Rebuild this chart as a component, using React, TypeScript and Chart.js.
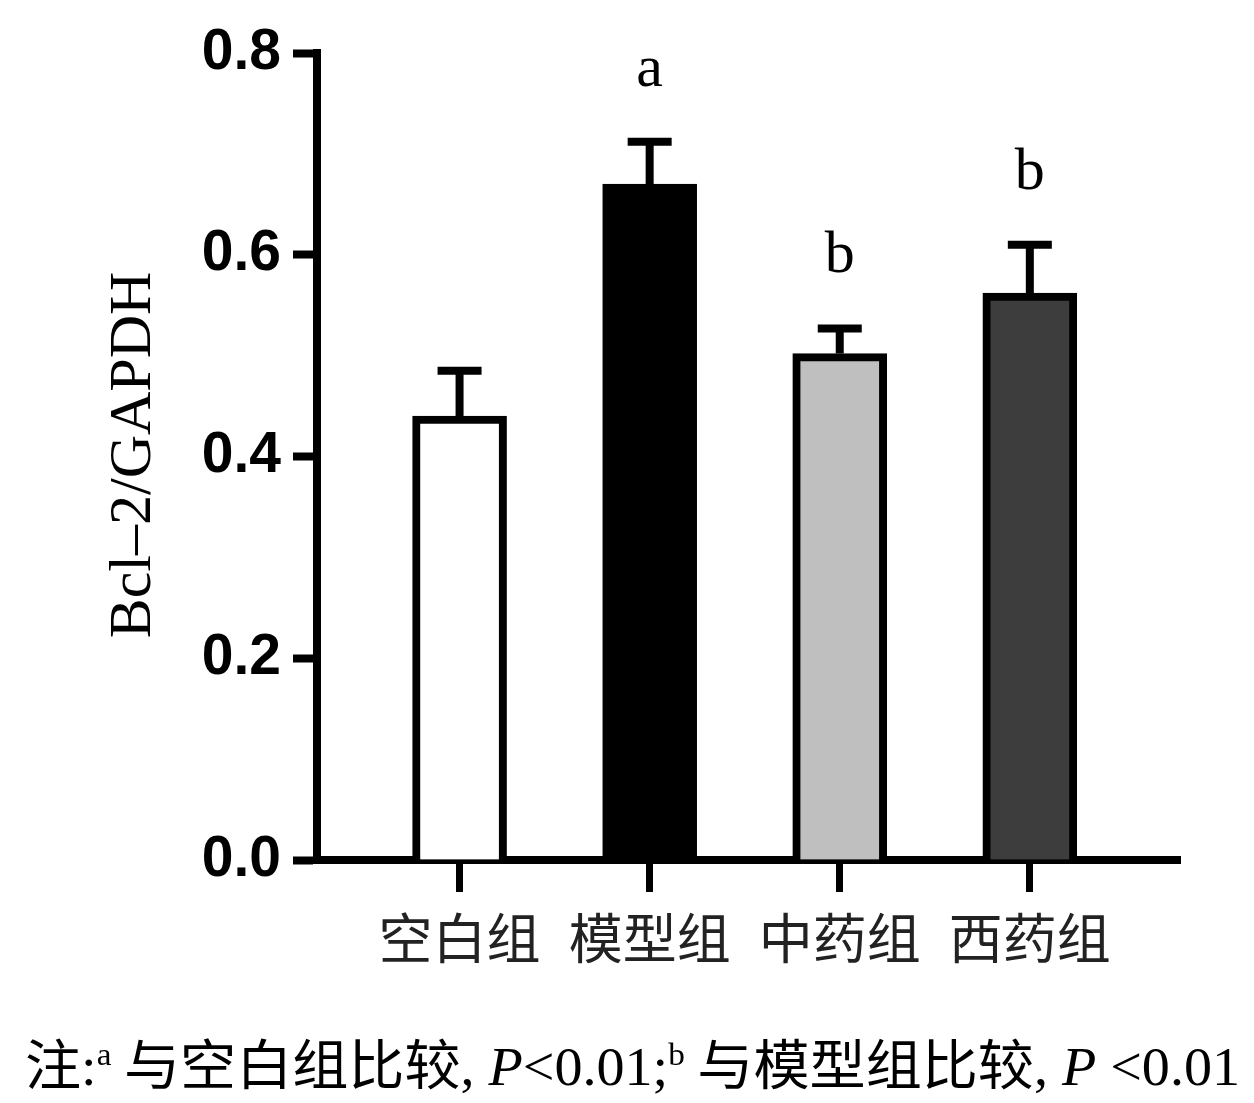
import { useEffect, useRef } from 'react';
import { Chart, registerables } from 'chart.js';
Chart.register(...registerables);

const categories = ['空白组', '模型组', '中药组', '西药组'];
const means = [0.44, 0.67, 0.502, 0.562];
const errUp = [0.045, 0.042, 0.025, 0.048];
const sigLetters = ['', 'a', 'b', 'b'];
const yTicks = [0, 0.2, 0.4, 0.6, 0.8];

const barFills = ['#ffffff', '#000000', '#bfbfbf', '#3d3d3d'];
const SERIF = '"Liberation Serif", "Times New Roman", serif';
const CJK = '"Noto Sans CJK SC", sans-serif';

const W = 1254;
const H = 1103;

const extras = {
  id: 'extras',
  afterDatasetsDraw(chart: any) {
    const { ctx, scales } = chart;
    const xs = scales.x;
    const ys = scales.y;
    ctx.save();
    ctx.strokeStyle = '#000';
    ctx.fillStyle = '#000';
    ctx.lineWidth = 8;
    means.forEach((m, i) => {
      const x = xs.getPixelForValue(i + 1);
      const yb = ys.getPixelForValue(m);
      const yt = ys.getPixelForValue(m + errUp[i]);
      ctx.beginPath();
      ctx.moveTo(x, yb);
      ctx.lineTo(x, yt);
      ctx.moveTo(x - 22, yt);
      ctx.lineTo(x + 22, yt);
      ctx.stroke();
      if (sigLetters[i]) {
        ctx.font = `60px ${SERIF}`;
        ctx.textAlign = 'center';
        ctx.textBaseline = 'alphabetic';
        ctx.fillText(sigLetters[i], x, yt - 56);
      }
    });

    // y axis title
    ctx.save();
    ctx.translate(150, 455);
    ctx.rotate(-Math.PI / 2);
    ctx.font = `60px ${SERIF}`;
    ctx.textAlign = 'center';
    ctx.textBaseline = 'alphabetic';
    ctx.fillText('Bcl–2/GAPDH', 0, 0);
    ctx.restore();

    // footnote
    const segs = [
      { t: '注', f: `54px ${CJK}`, r: 0 },
      { t: ':', f: `54px ${SERIF}`, r: 0 },
      { t: 'a', f: `32px ${SERIF}`, r: 20 },
      { t: ' 与空白组比较', f: `54px ${CJK}`, r: 0 },
      { t: ', ', f: `54px ${SERIF}`, r: 0 },
      { t: 'P', f: `italic 54px ${SERIF}`, r: 0 },
      { t: '<0.01', f: `54px ${SERIF}`, r: 0 },
      { t: ';', f: `54px ${SERIF}`, r: 0 },
      { t: 'b', f: `32px ${SERIF}`, r: 20 },
      { t: ' 与模型组比较', f: `54px ${CJK}`, r: 0 },
      { t: ', ', f: `54px ${SERIF}`, r: 0 },
      { t: 'P', f: `italic 54px ${SERIF}`, r: 0 },
      { t: ' <0.01', f: `54px ${SERIF}`, r: 0 },
    ];
    let total = 0;
    segs.forEach((s) => {
      ctx.font = s.f;
      total += ctx.measureText(s.t).width;
    });
    ctx.save();
    ctx.translate(25, 1085);
    ctx.scale(1215 / total, 1);
    ctx.textAlign = 'left';
    ctx.textBaseline = 'alphabetic';
    let cx = 0;
    segs.forEach((s) => {
      ctx.font = s.f;
      ctx.fillText(s.t, cx, -s.r);
      cx += ctx.measureText(s.t).width;
    });
    ctx.restore();
    ctx.restore();
  },
};

const App = () => {
  const canvas = useRef<any>(null);
  useEffect(() => {
    const c = new Chart(canvas.current, {
      type: 'bar',
      data: {
        datasets: [
          {
            data: means.map((v, i) => ({ x: i + 1, y: v })),
            backgroundColor: barFills,
            borderColor: '#000',
            borderWidth: 8,
            barThickness: 94,
          },
        ],
      },
      options: {
        responsive: false,
        animation: false,
        devicePixelRatio: 1,
        layout: { padding: { left: 0, right: W - 1180, top: 53, bottom: 0 } },
        plugins: { legend: { display: false }, tooltip: { enabled: false } },
        scales: {
          x: {
            type: 'linear',
            min: 0.25,
            max: 4.79,
            offset: false,
            afterFit: (s: any) => {
              s.height = H - 860;
            },
            afterBuildTicks: (s: any) => {
              s.ticks = categories.map((_, i) => ({ value: i + 1 }));
            },
            border: { display: true, color: '#000', width: 8 },
            grid: {
              offset: false,
              drawOnChartArea: false,
              drawTicks: true,
              tickLength: 32,
              tickWidth: 7,
              tickColor: '#000',
              color: '#000',
            },
            ticks: {
              autoSkip: false,
              maxRotation: 0,
              padding: 14,
              color: '#222',
              font: { family: 'Noto Sans CJK SC', size: 54 },
              callback: (v: any) => categories[Math.round(v) - 1] ?? '',
            },
          },
          y: {
            min: 0,
            max: 0.8,
            afterFit: (s: any) => {
              s.width = 317;
            },
            afterBuildTicks: (s: any) => {
              s.ticks = yTicks.map((v) => ({ value: v }));
            },
            border: { display: true, color: '#000', width: 8 },
            grid: {
              drawOnChartArea: false,
              drawTicks: true,
              tickLength: 24,
              tickWidth: 8,
              tickColor: '#000',
              color: '#000',
            },
            ticks: {
              padding: 12,
              color: '#000',
              font: { family: 'Liberation Sans', size: 57, weight: 'bold' },
              callback: (v: any) => Number(v).toFixed(1),
            },
          },
        },
      },
      plugins: [extras],
    });
    return () => c.destroy();
  }, []);
  return (
    <div style={{ position: 'absolute', left: 0, top: 0, width: W, height: H, background: '#fff' }}>
      <canvas ref={canvas} width={W} height={H} style={{ width: W, height: H }}></canvas>
    </div>
  );
};

export default App;
